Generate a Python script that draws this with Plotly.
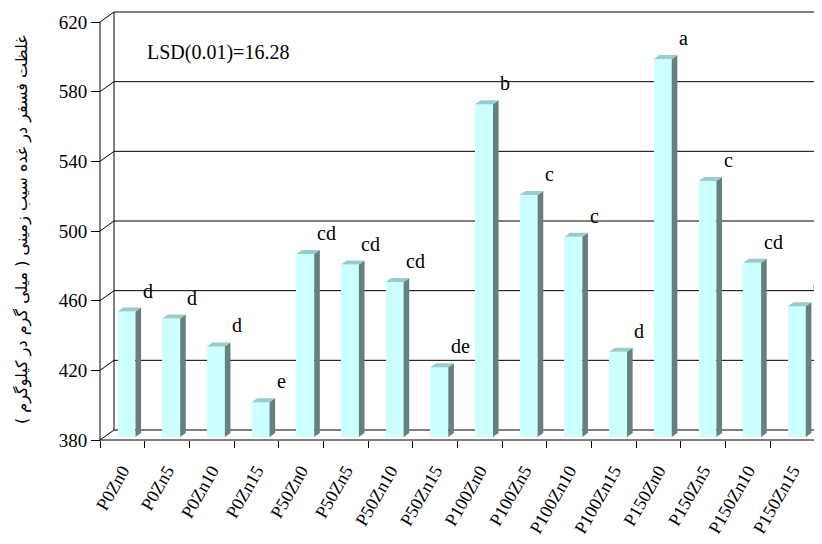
import plotly.graph_objects as go

# ---------------- data ----------------
categories = ["P0Zn0", "P0Zn5", "P0Zn10", "P0Zn15",
              "P50Zn0", "P50Zn5", "P50Zn10", "P50Zn15",
              "P100Zn0", "P100Zn5", "P100Zn10", "P100Zn15",
              "P150Zn0", "P150Zn5", "P150Zn10", "P150Zn15"]
values = [452, 448, 432, 400, 485, 479, 469, 420,
          571, 519, 495, 429, 597, 527, 480, 455]
letters = ["d", "d", "d", "e", "cd", "cd", "cd", "de",
           "b", "c", "c", "d", "a", "c", "cd", "d"]
y_ticks = [380, 420, 460, 500, 540, 580, 620]
lsd_text = "LSD(0.01)=16.28"
y_title = "غلظت فسفر در غده سیب زمینی ( میلی گرم در کیلوگرم )"

SERIF = "Liberation Serif, Tinos, Times New Roman, DejaVu Serif, serif"

# ---------------- geometry (screen pixels; page has an 8px body margin) ----
OFF = 8
W, H = 822 - OFF, 544 - OFF
ML, MR, MT = 96 - OFF, 0, 10 - OFF
PLOT_BOTTOM = 444 - OFF
MB = H - PLOT_BOTTOM
PW, PH = W - ML - MR, H - MT - MB
FRONT_LEFT_PX = 100 - OFF
FRONT_RIGHT_PX = 815 - OFF
FRONT_BOTTOM_PX = 440 - OFF
FRONT_TOP_PX = 22 - OFF
YMIN, YMAX = y_ticks[0], y_ticks[-1]
ppy = (FRONT_BOTTOM_PX - FRONT_TOP_PX) / (YMAX - YMIN)
ppx = (FRONT_RIGHT_PX - FRONT_LEFT_PX) / len(categories)

y_lo = YMIN - (PLOT_BOTTOM - FRONT_BOTTOM_PX) / ppy
y_hi = y_lo + PH / ppy
x_lo = -0.5 - (FRONT_LEFT_PX - ML) / ppx
x_hi = x_lo + PW / ppx

DEPTH_X, DEPTH_Y = 14, 10     # full depth of the 3D box (px)
BAR_F0, BAR_F1 = 0.3, 0.7     # depth fraction occupied by bars
BAR_W = 0.4


def ux(px):
    return px / ppx


def uy(px):
    return px / ppy


sx = ux(DEPTH_X * BAR_F0)
sy = uy(DEPTH_Y * BAR_F0)
ddx = ux(DEPTH_X * (BAR_F1 - BAR_F0))
ddy = uy(DEPTH_Y * (BAR_F1 - BAR_F0))

FRONT = "#CCFFFF"
TOP = "#99CCCC"
SIDE = "#668080"

fig = go.Figure()

idx = list(range(len(categories)))
hw = BAR_W / 2

# side faces
sxs, sys_ = [], []
for i, v in zip(idx, values):
    sxs += [i + hw, i + hw + ddx, i + hw + ddx, i + hw, i + hw, None]
    sys_ += [YMIN, YMIN + ddy, v + ddy, v, YMIN, None]
fig.add_trace(go.Scatter(x=sxs, y=sys_, mode="lines", fill="toself",
                         fillcolor=SIDE, line=dict(width=0, color=SIDE),
                         hoverinfo="skip", showlegend=False,
                         xaxis="x2", yaxis="y2"))
# top faces
txs, tys = [], []
for i, v in zip(idx, values):
    txs += [i - hw, i - hw + ddx, i + hw + ddx, i + hw, i - hw, None]
    tys += [v, v + ddy, v + ddy, v, v, None]
fig.add_trace(go.Scatter(x=txs, y=tys, mode="lines", fill="toself",
                         fillcolor=TOP, line=dict(width=0, color=TOP),
                         hoverinfo="skip", showlegend=False,
                         xaxis="x2", yaxis="y2"))
# front faces
fig.add_trace(go.Bar(x=idx, y=[v - YMIN for v in values], base=YMIN,
                     width=BAR_W, marker=dict(color=FRONT, line=dict(width=0)),
                     customdata=values, text=categories,
                     hovertemplate="%{text}: %{customdata}<extra></extra>",
                     textposition="none", showlegend=False,
                     xaxis="x2", yaxis="y2"))

# ---------------- box / grid shapes ----------------
shapes = []
line_k = dict(color="black", width=1)
bx = -0.5 + ux(DEPTH_X)
for t in y_ticks:
    by = t + uy(DEPTH_Y)
    shapes.append(dict(type="line", xref="x", yref="y", x0=-0.5, y0=t,
                       x1=bx, y1=by, line=line_k, layer="below"))
    shapes.append(dict(type="line", xref="x", yref="y", x0=bx, y0=by,
                       x1=x_hi + 1, y1=by, line=line_k, layer="below"))
shapes.append(dict(type="line", xref="x", yref="y", x0=bx, y0=YMIN + uy(DEPTH_Y),
                   x1=bx, y1=YMAX + uy(DEPTH_Y), line=line_k, layer="below"))
shapes.append(dict(type="line", xref="x", yref="y", x0=-0.5, y0=YMIN,
                   x1=-0.5, y1=YMAX, line=line_k, layer="below"))
xend = len(categories) - 0.5
shapes.append(dict(type="line", xref="x", yref="y", x0=-0.5, y0=YMIN,
                   x1=xend, y1=YMIN, line=line_k, layer="below"))
shapes.append(dict(type="line", xref="x", yref="y", x0=xend, y0=YMIN,
                   x1=xend + ux(DEPTH_X), y1=YMIN + uy(DEPTH_Y),
                   line=line_k, layer="below"))

# ---------------- annotations ----------------
annotations = []
for i, v, lt in zip(idx, values, letters):
    annotations.append(dict(x=i, y=v, xref="x2", yref="y2", text=lt,
                            showarrow=False, xshift=21, yshift=21,
                            xanchor="center", yanchor="middle",
                            font=dict(family=SERIF, size=20, color="black")))
annotations.append(dict(x=(145 - OFF - ML) / PW, y=(PLOT_BOTTOM - (53 - OFF)) / PH,
                        xref="paper", yref="paper", text=lsd_text,
                        showarrow=False, xanchor="left", yanchor="middle",
                        font=dict(family=SERIF, size=20, color="black")))
annotations.append(dict(x=(22 - OFF - ML) / PW, y=(PLOT_BOTTOM - (230 - OFF)) / PH,
                        xref="paper", yref="paper", text=y_title,
                        textangle=-90, showarrow=False,
                        xanchor="center", yanchor="middle",
                        font=dict(family="DejaVu Sans", size=16,
                                  color="black")))

axis_pos_x = (FRONT_LEFT_PX - ML) / PW
axis_pos_y = (PLOT_BOTTOM - FRONT_BOTTOM_PX) / PH

fig.update_layout(
    template="none",
    width=W, height=H, autosize=False,
    margin=dict(l=ML, r=MR, t=MT, b=MB, pad=0),
    paper_bgcolor="white", plot_bgcolor="white",
    font=dict(family=SERIF, color="black"),
    bargap=0,
    shapes=shapes, annotations=annotations,
    xaxis=dict(range=[x_lo, x_hi], tickvals=idx, ticktext=categories,
               tickangle=-60, ticks="outside", ticklen=12,
               tickcolor="rgba(0,0,0,0)", showgrid=False, zeroline=False,
               showline=False, anchor="free", position=axis_pos_y,
               automargin=False,
               tickfont=dict(family=SERIF, size=18, color="black"),
               minor=dict(tickvals=[i - 0.5 for i in range(len(categories) + 1)],
                          ticks="outside", ticklen=7, tickcolor="black",
                          tickwidth=1, showgrid=False),
               fixedrange=True),
    yaxis=dict(range=[y_lo, y_hi], tickvals=y_ticks, ticks="outside",
               ticklen=9, tickcolor="black", showgrid=False, zeroline=False,
               showline=False, anchor="free", position=axis_pos_x,
               automargin=False,
               tickfont=dict(family=SERIF, size=19, color="black"),
               fixedrange=True),
    xaxis2=dict(range=[x_lo - sx, x_hi - sx], overlaying="x", visible=False,
                automargin=False, fixedrange=True),
    yaxis2=dict(range=[y_lo - sy, y_hi - sy], overlaying="y", visible=False,
                automargin=False, fixedrange=True),
)

fig.write_html("out.html")
